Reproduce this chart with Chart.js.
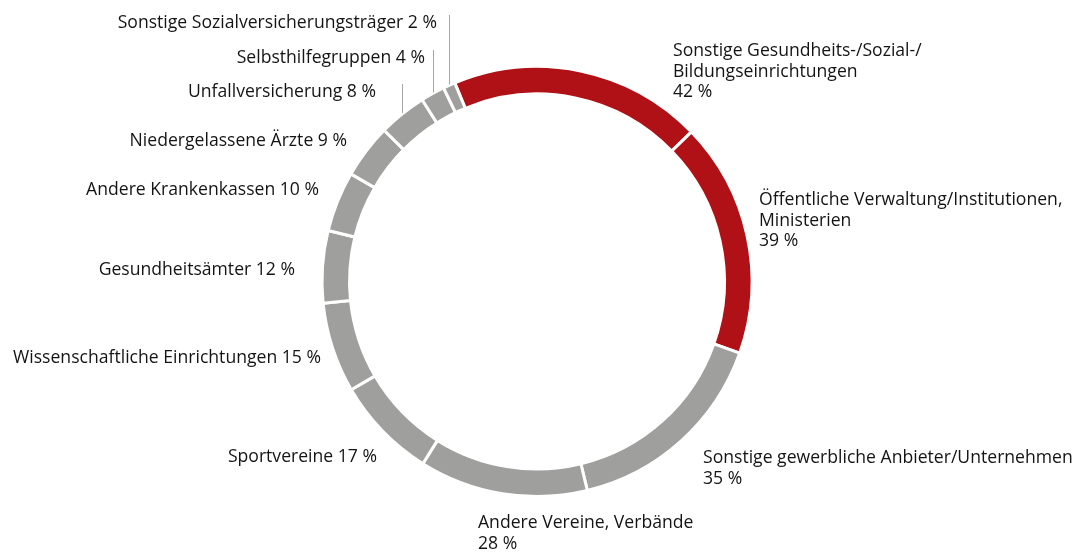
<!DOCTYPE html>
<html lang="de">
<head>
<meta charset="utf-8">
<title>Kooperationspartner</title>
<script src="https://cdn.jsdelivr.net/npm/chart.js@4.4.0/dist/chart.umd.min.js"></script>
<style>
  html, body { margin: 0; padding: 0; background: #fff; }
  #wrap { width: 1080px; height: 552px; }
</style>
</head>
<body>
<div id="wrap"><canvas id="donut" width="1080" height="552"></canvas></div>
<script>
// categories, clockwise from the top (multi-line names as arrays)
const categories = [
  ["Sonstige Gesundheits-/Sozial-/", "Bildungseinrichtungen"],
  ["Öffentliche Verwaltung/Institutionen,", "Ministerien"],
  ["Sonstige gewerbliche Anbieter/Unternehmen"],
  ["Andere Vereine, Verbände"],
  "Sportvereine",
  "Wissenschaftliche Einrichtungen",
  "Gesundheitsämter",
  "Andere Krankenkassen",
  "Niedergelassene Ärzte",
  "Unfallversicherung",
  "Selbsthilfegruppen",
  "Sonstige Sozialversicherungsträger"
];
const values = [42, 39, 35, 28, 17, 15, 12, 10, 9, 8, 4, 2];
const highlighted = [true, true, false, false, false, false, false, false, false, false, false, false];

const RED = "#B01116";
const GREY = "#9F9F9E";
const FONT = "17.6px 'Open Sans'";
const LINE_H = 20.5;

// where the label text goes: x, baseline of first line, text alignment, leader line?
const labelPos = [
  { x: 673, y: 56, align: "left" },
  { x: 759, y: 205, align: "left" },
  { x: 703, y: 463, align: "left" },
  { x: 478, y: 528, align: "left" },
  { x: 377, y: 462, align: "right" },
  { x: 321, y: 363, align: "right" },
  { x: 295, y: 275, align: "right" },
  { x: 319, y: 195, align: "right" },
  { x: 347, y: 146, align: "right" },
  { x: 376, y: 97, align: "right", leader: true },
  { x: 425, y: 63, align: "right", leader: true },
  { x: 437, y: 28, align: "right", leader: true }
];

const labelPlugin = {
  id: "sliceLabels",
  afterDraw(chart) {
    const ctx = chart.ctx;
    const arcs = chart.getDatasetMeta(0).data;
    ctx.save();
    ctx.font = FONT;
    ctx.fillStyle = "#141414";
    ctx.textBaseline = "alphabetic";
    categories.forEach(function (cat, i) {
      const pos = labelPos[i];
      const pct = values[i] + " %";
      let lines;
      if (Array.isArray(cat)) {
        lines = cat.concat([pct]);   // name lines, then value on its own line
      } else {
        lines = [cat + " " + pct];
      }
      ctx.textAlign = pos.align;
      lines.forEach(function (t, k) {
        ctx.fillText(t, pos.x, pos.y + k * LINE_H);
      });

      if (pos.leader) {
        // thin vertical line down to the middle of the slice
        const a = arcs[i];
        const mid = (a.startAngle + a.endAngle) / 2;
        const lx = Math.round(a.x + Math.cos(mid) * a.outerRadius) + 0.5;
        const ly = a.y + Math.sin(mid) * a.outerRadius - 1;
        ctx.strokeStyle = "#a6a6a6";
        ctx.lineWidth = 1;
        ctx.beginPath();
        ctx.moveTo(lx, pos.y - 13);
        ctx.lineTo(lx, ly);
        ctx.stroke();
      }
    });
    ctx.restore();
  }
};

const ctx = document.getElementById("donut").getContext("2d");
const chart = new Chart(ctx, {
  type: "doughnut",
  data: {
    labels: categories.map(c => Array.isArray(c) ? c.join(" ") : c),
    datasets: [{
      data: values,
      backgroundColor: highlighted.map(h => h ? RED : GREY),
      borderColor: "#ffffff",
      borderWidth: 3,
      hoverOffset: 0
    }]
  },
  options: {
    responsive: false,
    animation: false,
    rotation: -22.5,
    radius: 215,
    cutout: "87.2%",
    layout: { padding: { left: 300, right: 306, top: 62, bottom: 51 } },
    plugins: {
      legend: { display: false },
      tooltip: { enabled: false }
    },
    events: []
  },
  plugins: [labelPlugin]
});
</script>
</body>
</html>
